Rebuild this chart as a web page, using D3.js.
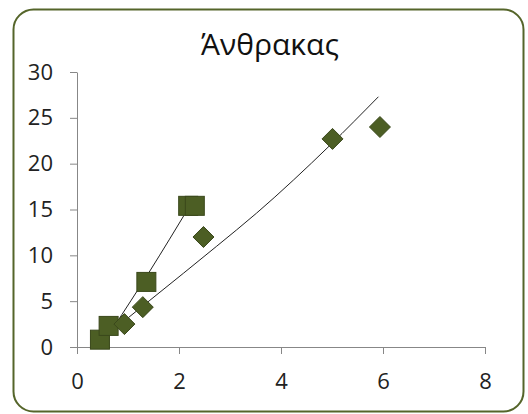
<!DOCTYPE html>
<html>
<head>
<meta charset="utf-8">
<script src="https://cdn.jsdelivr.net/npm/d3@7"></script>
<style>
  body { margin: 0; background: #fff; }
  svg { display: block; }
</style>
</head>
<body>
<svg></svg>
<script>

// values
var TITLE = "Άνθρακας";
var diamondX = [0.93, 1.29, 2.48, 5.01, 5.94];
var diamondY = [2.5, 4.35, 12.0, 22.7, 24.0];
var squareX = [0.45, 0.62, 1.36, 2.18, 2.31];
var squareY = [0.8, 2.3, 7.1, 15.4, 15.4];
var trend1X = [0.85, 1.43, 2.74, 3.52, 4.96, 5.91];
var trend1Y = [2.5, 5.1, 11.0, 14.6, 22.0, 27.3];
var trend2X = [0.7, 1.43, 2.2];
var trend2Y = [2.0, 8.3, 15.3];
var xTicks = [0, 2, 4, 6, 8];
var yTicks = [0, 5, 10, 15, 20, 25, 30];

var width = 528, height = 414;
var margin = {top: 72, right: 43, bottom: 67, left: 77};

const x = d3.scaleLinear().domain([0, 8]).range([margin.left, width - margin.right]);
const y = d3.scaleLinear().domain([0, 30]).range([height - margin.bottom, margin.top]);

var markColor = "#4c5e24", markStroke = "#3a481b";
var axisColor = "#878787";
var font = "'Open Sans', 'DejaVu Sans', sans-serif";

const svg = d3.select('svg')
	.attr('width', width)
	.attr('height', height);

// chart area frame
svg.append('rect')
	.attr('x', 13.5).attr('y', 9.5)
	.attr('width', 510).attr('height', 402)
	.attr('rx', 20).attr('ry', 20)
	.attr('fill', '#fff')
	.attr('stroke', '#55652a')
	.attr('stroke-width', 2);

svg.append('text')
	.attr('x', 270)
	.attr('y', 55)
	.attr('text-anchor', 'middle')
	.style('font-family', font)
	.style('font-size', '30px')
	.style('fill', '#111')
	.text(TITLE);

var xAxis = d3.axisBottom(x).tickValues(xTicks).tickSize(7).tickPadding(19).tickSizeOuter(0);
var yAxis = d3.axisLeft(y).tickValues(yTicks).tickSize(7).tickPadding(17).tickSizeOuter(0);

const gx = svg.append('g')
	.attr('transform', 'translate(0,' + y(0) + ')')
	.call(xAxis);

const gy = svg.append('g')
	.attr('transform', 'translate(' + x(0) + ',0)')
	.call(yAxis);

[gx, gy].forEach(function(g) {
	g.selectAll('path, line').attr('stroke', axisColor);
	g.selectAll('text')
		.style('font-family', font)
		.style('font-size', '22px')
		.style('fill', '#222');
});

// trend lines
var line = d3.line()
	.x(function(d) { return x(d[0]); })
	.y(function(d) { return y(d[1]); })
	.curve(d3.curveMonotoneX);

svg.append('path')
	.datum(trend1X.map(function(v, i) { return [v, trend1Y[i]]; }))
	.attr('d', line)
	.attr('fill', 'none')
	.attr('stroke', '#222')
	.attr('stroke-width', 1);

svg.append('path')
	.datum(trend2X.map(function(v, i) { return [v, trend2Y[i]]; }))
	.attr('d', line)
	.attr('fill', 'none')
	.attr('stroke', '#222')
	.attr('stroke-width', 1);

// square series
var sq = 19;
svg.selectAll('.square')
	.data(squareX.map(function(v, i) { return {x: v, y: squareY[i]}; }))
	.enter().append('rect')
	.attr('class', 'square')
	.attr('x', function(d) { return x(d.x) - sq / 2; })
	.attr('y', function(d) { return y(d.y) - sq / 2; })
	.attr('width', sq)
	.attr('height', sq)
	.attr('fill', markColor)
	.attr('stroke', markStroke)
	.attr('stroke-width', 1);

// diamond series
var dm = 10.5;
svg.selectAll('.diamond')
	.data(diamondX.map(function(v, i) { return {x: v, y: diamondY[i]}; }))
	.enter().append('path')
	.attr('class', 'diamond')
	.attr('d', function(d) {
		var cx = x(d.x), cy = y(d.y);
		return 'M' + cx + ',' + (cy - dm) + 'L' + (cx + dm) + ',' + cy +
			'L' + cx + ',' + (cy + dm) + 'L' + (cx - dm) + ',' + cy + 'Z';
	})
	.attr('fill', markColor)
	.attr('stroke', markStroke)
	.attr('stroke-width', 1);

</script>
</body>
</html>
